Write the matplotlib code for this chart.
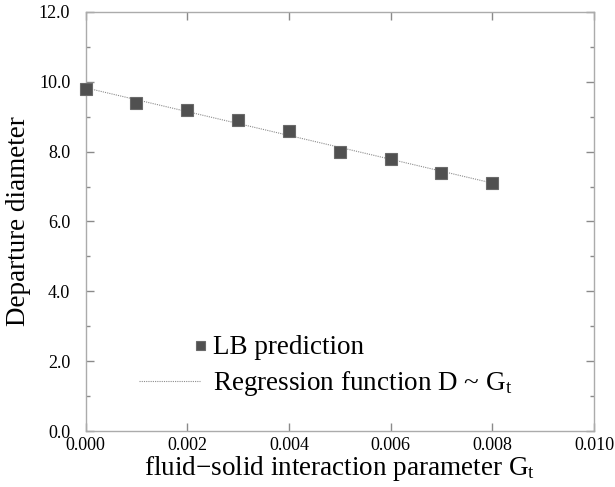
import matplotlib
matplotlib.use("Agg")
import matplotlib.pyplot as plt
from matplotlib.legend_handler import HandlerLine2DCompound
from matplotlib.ticker import MultipleLocator

plt.rcParams['font.family'] = ['Liberation Serif', 'DejaVu Serif']
plt.rcParams['mathtext.fontset'] = 'custom'
plt.rcParams['mathtext.rm'] = 'Liberation Serif'
plt.rcParams['mathtext.it'] = 'Liberation Serif:italic'

# LB simulation results
gt_values = [0.000, 0.001, 0.002, 0.003, 0.004, 0.005, 0.006, 0.007, 0.008]
diameters = [9.8, 9.4, 9.2, 8.9, 8.6, 8.0, 7.8, 7.4, 7.1]

# regression line end points
reg_x = [0.000, 0.008]
reg_y = [9.83, 7.10]

x_ticks = [0.000, 0.002, 0.004, 0.006, 0.008, 0.010]
y_ticks = [0.0, 2.0, 4.0, 6.0, 8.0, 10.0, 12.0]


class RightMarker(HandlerLine2DCompound):
    # put the legend marker at the right end of the handle
    def get_xdata(self, legend, xdescent, ydescent, width, height, fontsize):
        xdata, _ = super().get_xdata(legend, xdescent, ydescent, width, height, fontsize)
        return xdata, [-xdescent + width]


fig = plt.figure(figsize=(6.15, 4.87), dpi=100)
ax = fig.add_axes([85.5 / 615, 1 - 431 / 487, (594 - 85.5) / 615, (431 - 12) / 487])

reg_line, = ax.plot(reg_x, reg_y, color='#8c8c8c', lw=0.8, linestyle=(0, (1, 1)),
                    label='Regression function D ~ $\\mathrm{G_t}$', zorder=2)
pts, = ax.plot(gt_values, diameters, linestyle='none', marker='s', markersize=9,
               markerfacecolor='#505050', markeredgecolor='#6a6a6a', markeredgewidth=0.8,
               label='LB prediction', zorder=3, clip_on=False)

ax.set_xlim(0, 0.010)
ax.set_ylim(0, 12)
ax.set_xticks(x_ticks)
ax.set_xticklabels(['%.3f' % v for v in x_ticks])
ax.set_yticks(y_ticks)
ax.set_yticklabels(['%.1f' % v for v in y_ticks])
ax.yaxis.set_minor_locator(MultipleLocator(1.0))

ax.tick_params(which='both', direction='in', top=True, right=True, colors='#8a8a8a',
               labelcolor='black', width=1)
ax.tick_params(which='major', length=6)
ax.tick_params(which='minor', length=3)
ax.tick_params(axis='x', labelsize=13, pad=4)
ax.tick_params(axis='y', labelsize=13, pad=11)
for s in ax.spines.values():
    s.set_color('#ababab')
    s.set_linewidth(1)

ax.set_xlabel('fluid\u2212solid interaction parameter $\\mathrm{G_t}$', fontsize=19.5, labelpad=0)
ax.set_ylabel('Departure diameter', fontsize=19.5, labelpad=6)

ax.legend(handles=[pts, reg_line], loc='upper left', bbox_to_anchor=(139 / 615, 1 - 335 / 487),
          bbox_transform=fig.transFigure, frameon=False, fontsize=19.5, borderpad=0,
          borderaxespad=0, handlelength=2.25, handletextpad=0.5, labelspacing=0.34,
          markerscale=0.72, handler_map={pts: RightMarker(numpoints=1)})

fig.savefig('out.png', dpi=100)
